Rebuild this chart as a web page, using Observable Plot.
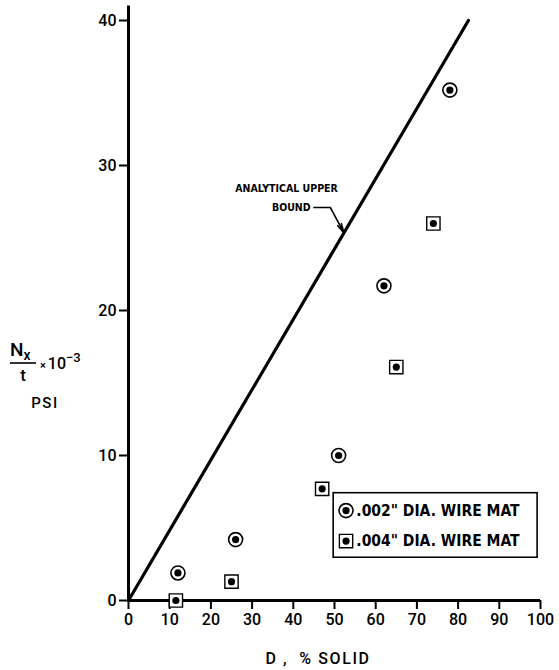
<!DOCTYPE html>
<html><head><meta charset="utf-8">
<script src="https://cdn.jsdelivr.net/npm/d3@7"></script>
<script src="https://cdn.jsdelivr.net/npm/@observablehq/plot@0.6"></script>
<style>
body{margin:0;background:#fff;}
#chart{position:relative;width:559px;height:670px;}
</style>
</head><body><div id="chart"></div>
<script>
// ---- data ----
const xTicks = [0, 10, 20, 30, 40, 50, 60, 70, 80, 90, 100];
const yTicks = [0, 10, 20, 30, 40];
const d002 = [12, 26, 51, 62, 78];
const n002 = [1.9, 4.2, 10.0, 21.7, 35.2];
const d004 = [11.5, 25, 47, 65, 74];
const n004 = [0, 1.3, 7.7, 16.1, 26.0];
const boundD = [0, 82.5];
const boundN = [0, 40];
const label002 = '.002" DIA. WIRE MAT';
const label004 = '.004" DIA. WIRE MAT';
const annotationLines = ["ANALYTICAL UPPER", "BOUND"];
const xTitle = "D ,  % SOLID";

const s002 = d002.map((d, i) => ({D: d, N: n002[i]}));
const s004 = d004.map((d, i) => ({D: d, N: n004[i]}));
const bound = boundD.map((d, i) => ({D: d, N: boundN[i]}));

const font = "Roboto";
const cond = "DejaVu Sans Condensed";
const plot = Plot.plot({
  width: 559, height: 670,
  marginLeft: 128, marginRight: 19, marginTop: 20, marginBottom: 70,
  x: {domain: [0, 100]},
  y: {domain: [0, 40]},
  style: {fontFamily: font, fontSize: "16px", fontWeight: 500, color: "#000", background: "#fff", overflow: "visible"},
  marks: [
    Plot.axisX(xTicks, {tickSize: 9, tickPadding: 4, strokeWidth: 2, fontSize: 16, label: null}),
    Plot.axisY(yTicks, {tickSize: 9, tickPadding: 3, strokeWidth: 2, fontSize: 16, label: null}),
    Plot.ruleY([0], {x1: 0, x2: 100, strokeWidth: 3}),
    Plot.ruleX([0], {y1: 0, y2: 41, strokeWidth: 3, clip: false}),
    Plot.line(bound, {x: "D", y: "N", strokeWidth: 3.2, strokeLinecap: "round"}),
    // .002 wire mat: ringed dot
    Plot.dot(s002, {x: "D", y: "N", r: 7, stroke: "#000", strokeWidth: 1.6, fill: "#fff"}),
    Plot.dot(s002, {x: "D", y: "N", r: 3.6, fill: "#000", stroke: "none"}),
    // .004 wire mat: boxed dot
    Plot.dot(s004, {x: "D", y: "N", symbol: "square", r: 7.5, stroke: "#000", strokeWidth: 1.4, fill: "#fff"}),
    Plot.dot(s004, {x: "D", y: "N", r: 3.6, fill: "#000", stroke: "none"}),
    // annotation
    Plot.text([annotationLines[0]], {x: 50.8, y: 28.4, text: d => d, textAnchor: "end", fontSize: 10.5, fontWeight: "bold", fontFamily: cond}),
    Plot.text([annotationLines[1]], {x: 44.2, y: 27.1, text: d => d, textAnchor: "end", fontSize: 10.5, fontWeight: "bold", fontFamily: cond}),
    Plot.line([{D: 45, N: 27.1}, {D: 49, N: 27.1}], {x: "D", y: "N", strokeWidth: 1.5}),
    Plot.arrow([{x1: 49, y1: 27.1, x2: 52.3, y2: 25.35}], {x1: "x1", y1: "y1", x2: "x2", y2: "y2", strokeWidth: 1.6, headLength: 9, headAngle: 25}),
    // legend box
    Plot.rect([{x1: 49.8, x2: 99.3, y1: 2.95, y2: 7.4}], {x1: "x1", x2: "x2", y1: "y1", y2: "y2", stroke: "#000", strokeWidth: 1.6, fill: "#fff"}),
    Plot.dot([{D: 52.8, N: 6.2}], {x: "D", y: "N", r: 7, stroke: "#000", strokeWidth: 1.6, fill: "#fff"}),
    Plot.dot([{D: 52.8, N: 6.2}], {x: "D", y: "N", r: 3.6, fill: "#000"}),
    Plot.dot([{D: 52.8, N: 4.1}], {x: "D", y: "N", symbol: "square", r: 7.5, stroke: "#000", strokeWidth: 1.4, fill: "#fff"}),
    Plot.dot([{D: 52.8, N: 4.1}], {x: "D", y: "N", r: 3.6, fill: "#000"}),
    Plot.text([label002], {x: 55.3, y: 6.2, text: d => d, textAnchor: "start", fontSize: 15.5, fontWeight: "bold", fontFamily: cond}),
    Plot.text([label004], {x: 55.3, y: 4.1, text: d => d, textAnchor: "start", fontSize: 15.5, fontWeight: "bold", fontFamily: cond})
  ]
});
document.getElementById("chart").appendChild(plot);

// axis titles as real SVG text
const svg = d3.select(plot);
svg.append("text").attr("x", 318).attr("y", 664).attr("text-anchor", "middle")
  .attr("font-family", font).attr("font-weight", 500).attr("font-size", 16).attr("letter-spacing", "1.6px").text(xTitle);
const yl = svg.append("g").attr("font-family", font).attr("font-weight", 500).attr("text-anchor", "start");
const nx = yl.append("text").attr("x", 10).attr("y", 356).attr("font-size", 19);
nx.append("tspan").text("N");
nx.append("tspan").attr("font-size", 14).attr("dy", 4).text("x");
yl.append("line").attr("x1", 10).attr("x2", 36).attr("y1", 363).attr("y2", 363).attr("stroke", "#000").attr("stroke-width", 1.6);
yl.append("text").attr("x", 23).attr("y", 381).attr("text-anchor", "middle").attr("font-size", 17).text("t");
const p = yl.append("text").attr("x", 40).attr("y", 369).attr("font-size", 16);
p.append("tspan").attr("font-size", 11).text("×");
p.append("tspan").attr("dx", 2).text("10");
p.append("tspan").attr("font-size", 13).attr("dy", -7).text("−3");
yl.append("text").attr("x", 45).attr("y", 408).attr("text-anchor", "middle").attr("font-size", 15).attr("letter-spacing", "1.5px").text("PSI");
</script>
</body></html>
